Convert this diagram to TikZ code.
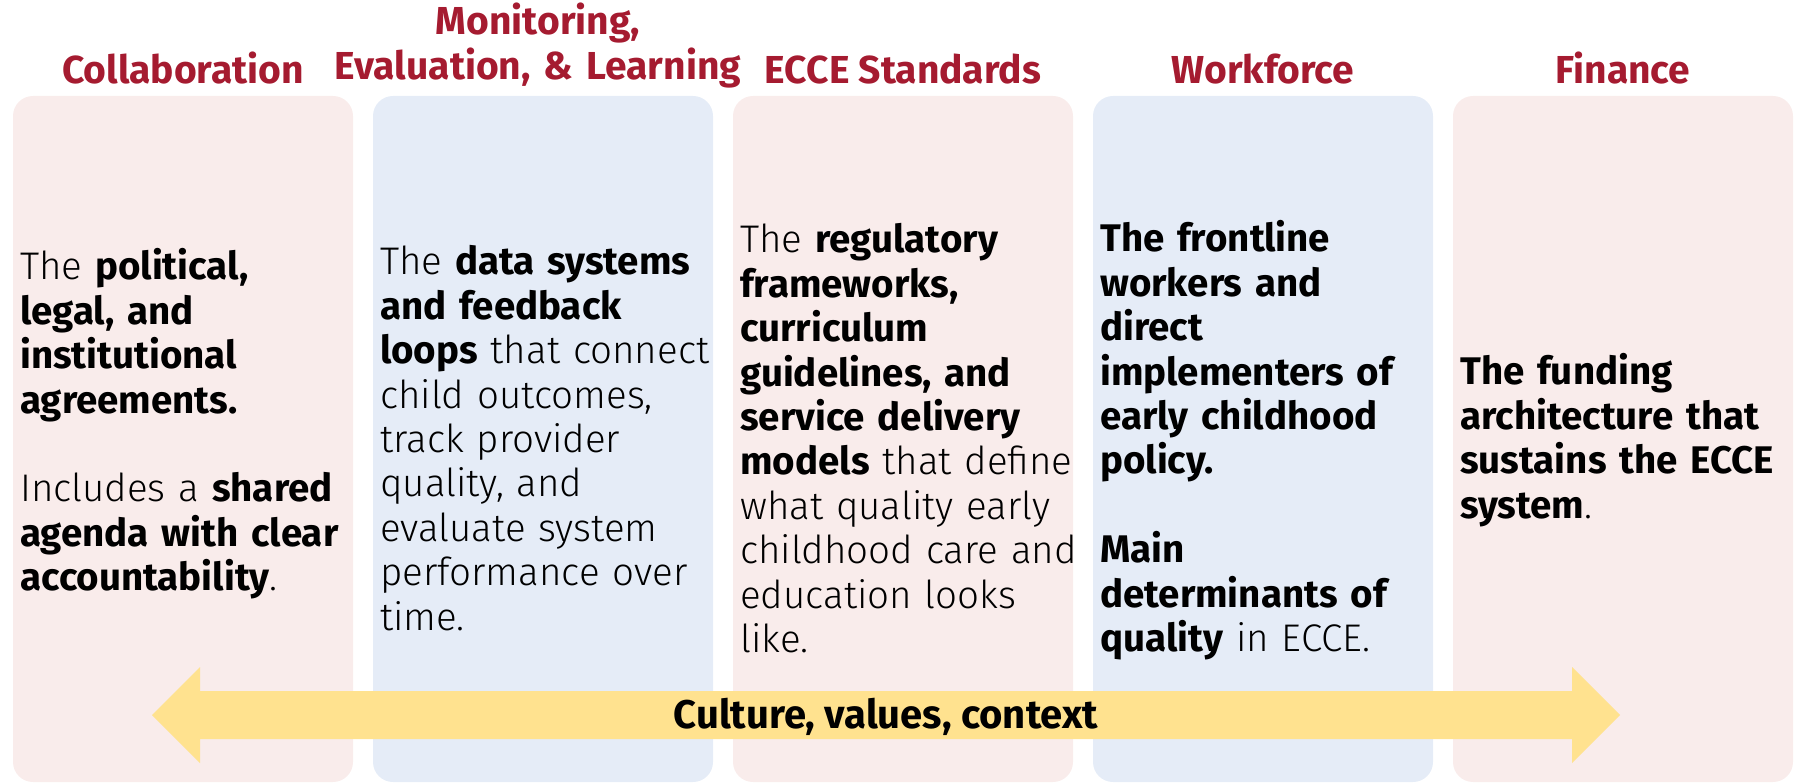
\documentclass[tikz,border=0pt]{standalone}
\usepackage{fontspec}
\setmainfont{Fira Sans Light}[BoldFont={Fira Sans Bold}]
\definecolor{pinkbg}{RGB}{249,236,235}
\definecolor{bluebg}{RGB}{229,236,247}
\definecolor{titlered}{RGB}{165,27,48}
\definecolor{arrowyellow}{RGB}{255,226,143}
\tikzset{
  panel/.style={rounded corners=20pt, draw=none},
  ttl/.style={font=\fontsize{39}{45}\selectfont\bfseries, text=titlered, inner sep=0pt, anchor=base, align=center},
  body/.style={font=\fontsize{38.5}{44.4}\selectfont, text=black, inner sep=0pt, anchor=base west, text width=400pt, align=left},
}
\begin{document}
\begin{tikzpicture}[x=1pt,y=-1pt]
\useasboundingbox (0,0) rectangle (1805,783);
% panels
\fill[panel, pinkbg] (13,96) rectangle (353,782);
\fill[panel, bluebg] (373,96) rectangle (713,782);
\fill[panel, pinkbg] (733,96) rectangle (1073,782);
\fill[panel, bluebg] (1093,96) rectangle (1433,782);
\fill[panel, pinkbg] (1453,96) rectangle (1793,782);
% titles
\node[ttl] (h1) at (183,84) {Collaboration};
\node[ttl, text width=480pt] (h2) at (538,35) {Monitoring,\\Evaluation, \& Learning};
\node[ttl] (h3) at (903,84) {ECCE Standards};
\node[ttl] (h4) at (1263,84) {Workforce};
\node[ttl] (h5) at (1623,84) {Finance};
% body texts
\node[body] (b1) at (20,280) {The \textbf{political,}\\ \textbf{legal, and}\\ \textbf{institutional}\\ \textbf{agreements.}\\[44.4pt] Includes a \textbf{shared}\\ \textbf{agenda with clear}\\ \textbf{accountability}.};
\node[body] (b2) at (380,275) {The \textbf{data systems}\\ \textbf{and feedback}\\ \textbf{loops} that connect\\ child outcomes,\\ track provider\\ quality, and\\ evaluate system\\ performance over\\ time.};
\node[body] (b3) at (740,253) {The \textbf{regulatory}\\ \textbf{frameworks,}\\ \textbf{curriculum}\\ \textbf{guidelines, and}\\ \textbf{service delivery}\\ \textbf{models} that define\\ what quality early\\ childhood care and\\ education looks\\ like.};
\node[body] (b4) at (1100,252) {\textbf{The frontline}\\ \textbf{workers and}\\ \textbf{direct}\\ \textbf{implementers of}\\ \textbf{early childhood}\\ \textbf{policy.}\\[44.4pt] \textbf{Main}\\ \textbf{determinants of}\\ \textbf{quality} in ECCE.};
\node[body] (b5) at (1460,385) {\textbf{The funding}\\ \textbf{architecture that}\\ \textbf{sustains the ECCE}\\ \textbf{system}.};
% double arrow
\fill[arrowyellow] (152,715) -- (200,667) -- (200,691) -- (1572,691) -- (1572,667) -- (1620,715) -- (1572,763) -- (1572,739) -- (200,739) -- (200,763) -- cycle;
\node[font=\fontsize{40}{44}\selectfont\bfseries, inner sep=0pt, anchor=base] (ctx) at (886,728) {Culture, values, context};
\end{tikzpicture}
\end{document}
